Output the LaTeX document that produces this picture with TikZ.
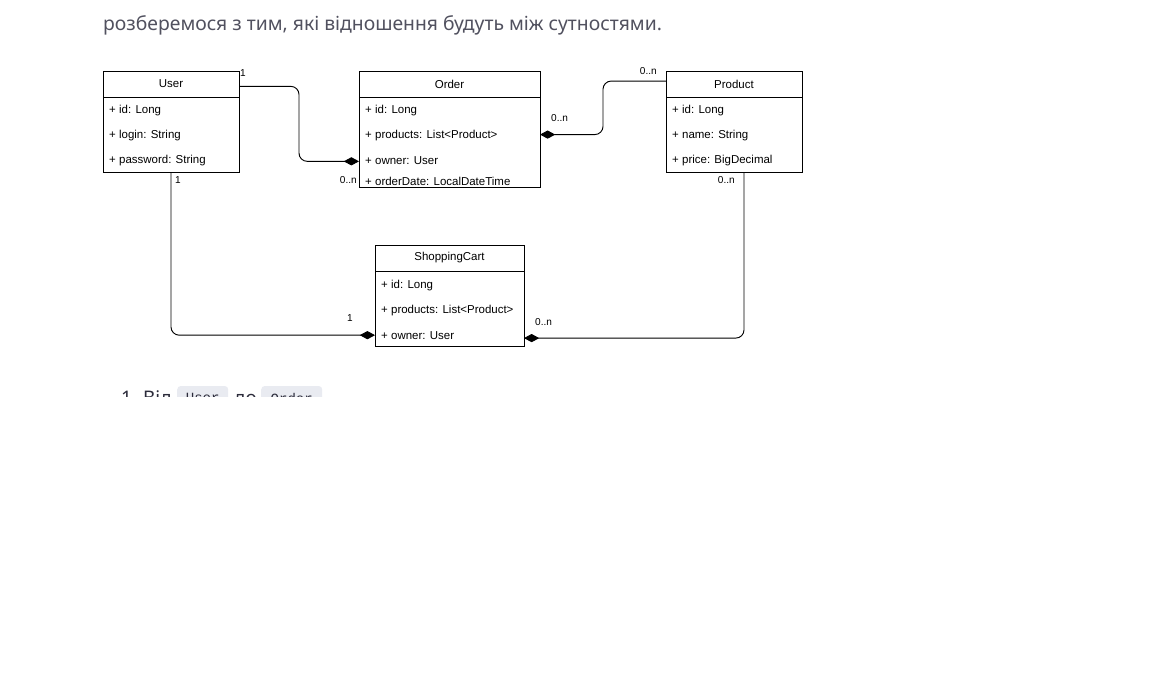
\documentclass[tikz,border=0pt]{standalone}
\usepackage{fontspec}
\setmainfont{Liberation Sans}
\newfontfamily\introfont{Noto Sans}
\newfontfamily\chipfont{Liberation Mono}
\usetikzlibrary{arrows.meta, positioning}
\definecolor{introgray}{HTML}{51515F}
\definecolor{listdark}{HTML}{2B2B3A}
\definecolor{chipbg}{HTML}{E9EBF1}
\tikzstyle{classhead} = [rectangle, draw=black, line width=0.8pt, outer sep=0pt, inner sep=0pt, minimum height=0.78cm, font=\fontsize{9.8}{11}\selectfont]
\tikzstyle{classbody} = [rectangle, draw=black, line width=0.8pt, outer sep=0pt, inner sep=0pt]
\tikzstyle{field} = [anchor=west, inner sep=0pt, yshift=-1.5pt, font=\fontsize{9.8}{11}\selectfont]
\tikzstyle{mult} = [inner sep=0pt, font=\fontsize{8.6}{10}\selectfont]
\tikzstyle{assoc} = [line width=0.8pt, rounded corners=7pt, {Diamond[length=13pt, width=7pt]}-]
\tikzstyle{intro} = [anchor=base west, inner sep=0pt, text=introgray, font=\introfont\fontsize{16.5}{19}\selectfont]
\tikzstyle{listtext} = [anchor=base west, inner sep=0pt, text=listdark, font=\introfont\bfseries\fontsize{16}{19}\selectfont]
\tikzstyle{codechip} = [anchor=west, fill=chipbg, rounded corners=3pt, inner sep=0pt, minimum height=0.72cm, text=listdark, font=\chipfont\fontsize{12}{14}\selectfont]

\begin{document}
\begin{tikzpicture}[x=0.03cm, y=-0.03cm]
	\useasboundingbox (0,0) rectangle (1154,682);

	\node [intro] (intro) at (103,31) {розберемося з тим, які відношення будуть між сутностями.};

	% User
	\node [classhead, minimum width=4.08cm] (user-title) at (171,84) {User};
	\node [classbody, minimum width=4.08cm, minimum height=2.25cm, below=0pt of user-title] (user) {};
	\node [field] (user-id)    at (109,109) {+ id: Long};
	\node [field] (user-login) at (109,134) {+ login: String};
	\node [field] (user-pass)  at (109,159) {+ password: String};

	% Order
	\node [classhead, minimum width=5.43cm] (order-title) at (449.5,84) {Order};
	\node [classbody, minimum width=5.43cm, minimum height=2.7cm, below=0pt of order-title] (order) {};
	\node [field] (order-id)       at (365,109) {+ id: Long};
	\node [field] (order-products) at (365,134) {+ products: List<Product>};
	\node [field] (order-owner)    at (365,159) {+ owner: User};
	\node [field] (order-date)     at (365,180) {+ orderDate: LocalDateTime};

	% Product
	\node [classhead, minimum width=4.08cm] (product-title) at (734,84) {Product};
	\node [classbody, minimum width=4.08cm, minimum height=2.25cm, below=0pt of product-title] (product) {};
	\node [field] (product-id)    at (672,109) {+ id: Long};
	\node [field] (product-name)  at (672,134) {+ name: String};
	\node [field] (product-price) at (672,159) {+ price: BigDecimal};

	% ShoppingCart
	\node [classhead, minimum width=4.47cm] (cart-title) at (449.5,258) {ShoppingCart};
	\node [classbody, minimum width=4.47cm, minimum height=2.25cm, below=0pt of cart-title] (cart) {};
	\node [field] (cart-id)       at (381,284) {+ id: Long};
	\node [field] (cart-products) at (381,309) {+ products: List<Product>};
	\node [field] (cart-owner)    at (381,334) {+ owner: User};

	% associations
	\draw [assoc] ([yshift=-0.5pt]order.west |- order-owner) -- ++(-60,0) |- ([yshift=-2pt]user-title.east);
	\draw [assoc] ([yshift=1pt]order.east |- order-products) -- ++(63,0) |- ([yshift=2.5pt]product-title.west);
	\draw [assoc] ([yshift=0.5pt]cart.west |- cart-owner) -| (user.south);
	\draw [assoc] ([yshift=-2pt]cart.east |- cart-owner) -| ([xshift=0.3cm]product.south);

	% multiplicities
	\node [mult, anchor=west] (m-user-order)    at (240,73)  {1};
	\node [mult, anchor=east] (m-order-user)    at (357,180) {0..n};
	\node [mult, anchor=west] (m-order-product) at (551,118) {0..n};
	\node [mult, anchor=east] (m-product-order) at (657,71)  {0..n};
	\node [mult, anchor=west] (m-user-cart)     at (175,180) {1};
	\node [mult]              (m-cart-user)     at (350,318) {1};
	\node [mult, anchor=east] (m-product-cart)  at (735,180) {0..n};
	\node [mult, anchor=west] (m-cart-product)  at (535,322) {0..n};

	% list item, cut off at the bottom
	\begin{scope}
		\clip (0,0) rectangle (1154,396);
		\node [listtext] (item-num) at (121,404) {1.};
		\node [listtext] (item-from) at (143,404) {Від};
		\node [codechip, minimum width=1.53cm] (chip-user) at (177,398) {User};
		\node [listtext] (item-to) at (234,404) {до};
		\node [codechip, minimum width=1.83cm] (chip-order) at (261,398) {Order};
	\end{scope}
\end{tikzpicture}
\end{document}
